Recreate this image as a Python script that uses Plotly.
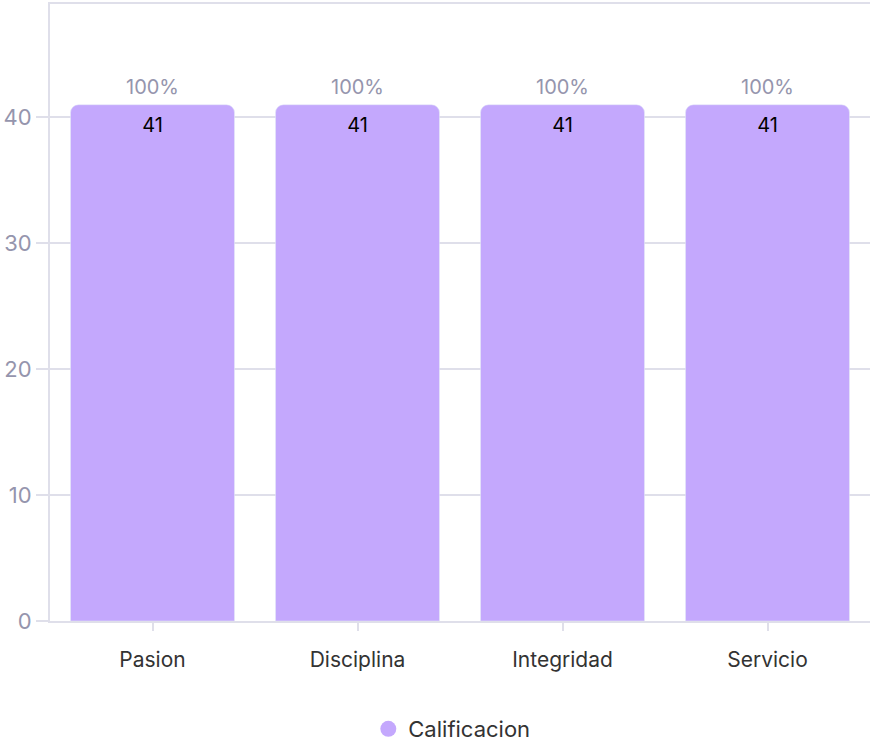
import plotly.graph_objects as go

# Datos
categorias = ["Pasion", "Disciplina", "Integridad", "Servicio"]
calificacion = [41, 41, 41, 41]
porcentajes = ["100%", "100%", "100%", "100%"]

color_barra = "#c4a8fd"
color_linea = "#dfdfea"
color_gris = "#9595ad"

fig = go.Figure()

fig.add_trace(go.Bar(
    x=categorias,
    y=calificacion,
    text=calificacion,
    textposition="inside",
    insidetextanchor="end",
    textfont=dict(color="black", size=20),
    marker=dict(color=color_barra, cornerradius=8),
    width=0.8,
    showlegend=False,
    name="Calificacion",
))

# Punto falso para que la leyenda muestre un circulo
fig.add_trace(go.Scatter(
    x=[None], y=[None], mode="markers",
    marker=dict(color=color_barra, size=22, symbol="circle"),
    name="Calificacion",
))

# Porcentajes arriba de cada barra
for cat, val, pct in zip(categorias, calificacion, porcentajes):
    fig.add_annotation(
        x=cat, y=val, text=pct, showarrow=False,
        yanchor="bottom", yshift=4,
        font=dict(color=color_gris, size=20),
    )

fig.update_layout(
    width=872, height=750,
    margin=dict(l=50, r=2, t=4, b=129),
    plot_bgcolor="white",
    paper_bgcolor="white",
    font=dict(family="Inter", color="#333333", size=21),
    legend=dict(orientation="h", x=0.49, xanchor="center",
                yref="container", y=0.0, yanchor="bottom",
                font=dict(size=22, color="#333333")),
)

fig.update_xaxes(
    automargin=False,
    showline=True, linecolor=color_linea, linewidth=2, mirror=True,
    ticks="outside", tickcolor=color_linea, ticklen=8, tickwidth=2,
    tickfont=dict(size=21, color="#333333"),
    ticklabelstandoff=11,
    showgrid=False,
)
fig.update_yaxes(
    automargin=False,
    range=[0, 49],
    tickvals=[0, 10, 20, 30, 40],
    showline=True, linecolor=color_linea, linewidth=2,
    showgrid=True, gridcolor=color_linea, gridwidth=2,
    ticks="outside", tickcolor=color_linea, ticklen=12, tickwidth=2,
    tickfont=dict(size=22, color=color_gris),
    zeroline=False,
)

# quitar el margen del body para que la figura quede en (0,0)
fig.write_html("out.html",
               config={"displayModeBar": False},
               post_script="document.body.style.margin='0';document.body.style.overflow='hidden';")
